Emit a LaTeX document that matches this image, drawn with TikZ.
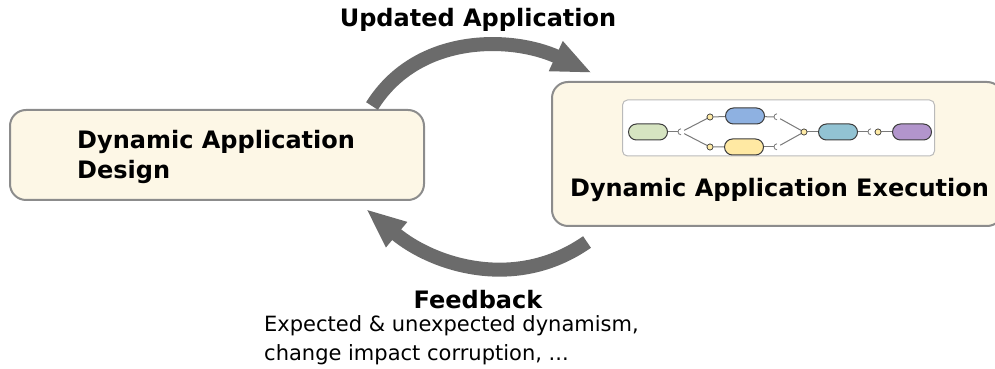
\documentclass[tikz,border=0pt]{standalone}
\usepackage{fontspec}
\setmainfont{DejaVu Sans}
\usepackage{xcolor}
\usetikzlibrary{arrows.meta}
\definecolor{boxcream}{HTML}{FDF7E6}
\definecolor{boxedge}{HTML}{8C8C8C}
\definecolor{arrowgray}{HTML}{6B6B6B}
\definecolor{pilledge}{HTML}{3C3C3C}
\definecolor{wiregray}{HTML}{7A7A7A}
\definecolor{plugyellow}{HTML}{FFEBA6}
\definecolor{pgreen}{HTML}{D6E4C1}
\definecolor{pblue}{HTML}{8EB1E1}
\definecolor{pyellow}{HTML}{FFE9A3}
\definecolor{pteal}{HTML}{92C3D3}
\definecolor{ppurple}{HTML}{B295CC}

\begin{document}
\begin{tikzpicture}[x=1pt, y=1pt,
  bigbox/.style={draw=boxedge, line width=2pt, fill=boxcream, rounded corners=16pt, inner sep=0pt},
  flowarrow/.style={draw=arrowgray, line width=14pt, -{Triangle[length=40pt,width=30pt]}},
  pill/.style={draw=pilledge, line width=1pt, rounded corners=8pt, minimum width=39pt, minimum height=16pt, inner sep=0pt},
  plug/.style={circle, draw=pilledge, fill=plugyellow, line width=0.6pt, minimum size=6pt, inner sep=0pt},
  socket/.style={inner sep=0pt, minimum size=6pt},
  wire/.style={draw=wiregray, line width=1pt},
  title/.style={font=\fontsize{24}{30}\selectfont\bfseries, inner sep=0pt},
  note/.style={font=\fontsize{21}{29}\selectfont, inner sep=0pt}
]
\useasboundingbox (0,0) rectangle (995,369);

% ---- BOXES ----
\node[bigbox, minimum width=414pt, minimum height=90pt] (design) at (217,214) {};
\node[title, align=left, anchor=west] (designtxt) at (77,212) {Dynamic Application\\Design};
\node[bigbox, minimum width=451pt, minimum height=144pt, anchor=south west] (exec) at (551,142) {};
\node[title] (exectxt) at (779.5,179) {Dynamic Application Execution};

% ---- PIPELINE ----
\node[draw=boxedge!60, line width=1pt, fill=white, rounded corners=5pt, minimum width=312pt, minimum height=56pt] (pipe) at (778.5,241) {};
\node[pill, fill=pgreen] (pA) at (648,237) {};
\node[pill, fill=pblue] (pB) at (745,253) {};
\node[pill, fill=pyellow] (pC) at (744,222) {};
\node[pill, fill=pteal] (pD) at (838,237) {};
\node[pill, fill=ppurple] (pE) at (912,237) {};
\node[socket] (sk1) at (681,237) {};
\node[plug] (ci1) at (710,252) {};
\node[plug] (ci2) at (710,222) {};
\node[socket] (sk2) at (777,252) {};
\node[socket] (sk3) at (777,222) {};
\node[plug] (ci3) at (804,237) {};
\node[socket] (sk4) at (871,237) {};
\node[plug] (ci4) at (878,237) {};
\draw[wire] (pA) -- (sk1.west);
\draw[wire] (sk1) -- (ci1) -- (pB);
\draw[wire] (sk1) -- (ci2) -- (pC);
\draw[wire] (pB) -- (sk2.west);
\draw[wire] (pC) -- (sk3.west);
\draw[wire] (sk2) -- (ci3);
\draw[wire] (sk3) -- (ci3);
\draw[wire] (ci3) -- (pD);
\draw[wire] (pD) -- (sk4.west);
\draw[wire] (ci4) -- (pE);
\foreach \s in {sk1,sk2,sk3,sk4}
  \draw[draw=wiregray, line width=0.8pt, fill=white] (\s.north) arc (90:270:3pt);
\node[plug] at (ci1) {};
\node[plug] at (ci2) {};
\node[plug] at (ci3) {};
\node[plug] at (ci4) {};

% ---- ARROWS ----
\draw[flowarrow] ([shift={(-53,3)}]design.north east) to[out=58, in=155] ([shift={(41,8)}]exec.north west);
\draw[flowarrow] ([shift={(36,-15)}]exec.south west) to[out=215, in=-40] ([shift={(-59,-8)}]design.south east);

% ---- LABELS ----
\node[title] (updlbl) at (478,349) {Updated Application};
\node[title] (fblbl) at (478,69) {Feedback};
\node[note, anchor=west] (fbline1) at (264,43) {Expected \& unexpected dynamism,};
\node[note, anchor=west] (fbline2) at (264,14) {change impact corruption, ...};

\end{tikzpicture}
\end{document}
